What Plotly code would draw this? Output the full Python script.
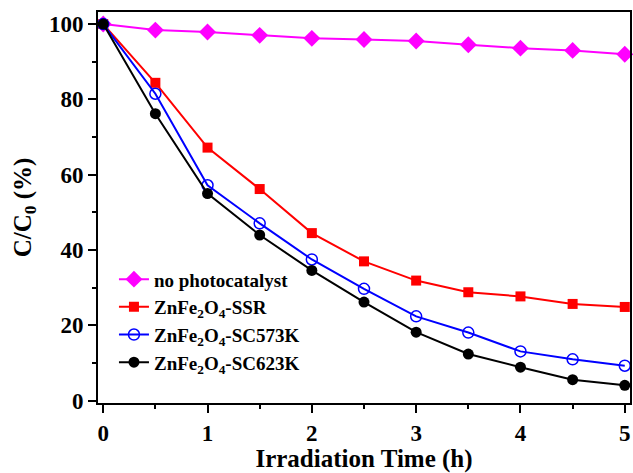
import plotly.graph_objects as go

# Irradiation time (h)
time_h = [0, 0.5, 1, 1.5, 2, 2.5, 3, 3.5, 4, 4.5, 5]

# Residual concentration C/C0 (%) for each sample
no_catalyst = [100, 98.4, 97.9, 97.0, 96.2, 95.9, 95.5, 94.5, 93.6, 93.0, 92.0]
ssr = [100, 84.4, 67.2, 56.2, 44.5, 37.0, 31.9, 28.8, 27.7, 25.7, 24.9]
sc573 = [100, 81.5, 57.2, 47.1, 37.5, 29.7, 22.4, 18.1, 13.1, 11.0, 9.3]
sc623 = [100, 76.2, 55.0, 44.0, 34.6, 26.2, 18.2, 12.4, 8.9, 5.6, 4.1]

series_names = [
    "<b>no photocatalyst</b>",
    "<b>ZnFe<sub>2</sub>O<sub>4</sub>-SSR</b>",
    "<b>ZnFe<sub>2</sub>O<sub>4</sub>-SC573K</b>",
    "<b>ZnFe<sub>2</sub>O<sub>4</sub>-SC623K</b>",
]
x_ticks = [0, 1, 2, 3, 4, 5]
y_ticks = [0, 20, 40, 60, 80, 100]

FONT = "Liberation Serif"

fig = go.Figure()

styles = [
    (no_catalyst, "#ff00ff", dict(symbol="diamond", size=13, color="#ff00ff")),
    (ssr, "#ff0000", dict(symbol="square", size=10, color="#ff0000")),
    (sc573, "#0000ff", dict(symbol="circle-open", size=11, color="#0000ff", line=dict(width=1.5))),
    (sc623, "#000000", dict(symbol="circle", size=11, color="#000000")),
]

for name, (vals, color, marker) in zip(series_names, styles):
    fig.add_trace(go.Scatter(
        x=time_h, y=vals, name=name, mode="lines+markers",
        line=dict(color=color, width=2), marker=marker,
        cliponaxis=False,
    ))

axis_common = dict(
    showline=True, linecolor="black", linewidth=2, mirror=True,
    ticks="outside", tickcolor="black", tickwidth=2, ticklen=8,
    showgrid=False, zeroline=False, automargin=False,
    tickfont=dict(family=FONT, size=23, color="black"),
)

fig.update_xaxes(
    range=[-0.05, 5.05], tickvals=x_ticks, ticktext=[f"<b>{v}</b>" for v in x_ticks],
    minor=dict(dtick=0.5, ticks="outside", ticklen=4, tickwidth=2, tickcolor="black"),
    title=dict(text="<b>Irradiation Time (h)</b>", font=dict(family=FONT, size=25, color="black"), standoff=12),
    **axis_common,
)
fig.update_yaxes(
    range=[-0.6, 103.2], tickvals=y_ticks, ticktext=[f"<b>{v}</b>" for v in y_ticks],
    minor=dict(dtick=10, ticks="outside", ticklen=4, tickwidth=2, tickcolor="black"),
    title=dict(text="<b>C/C<sub>0</sub> (%)</b>", font=dict(family=FONT, size=25, color="black"), standoff=10),
    **axis_common,
)

fig.update_layout(
    width=633, height=473,
    margin=dict(l=98, r=3, t=12, b=70),
    plot_bgcolor="white", paper_bgcolor="white",
    font=dict(family=FONT),
    showlegend=True,
    legend=dict(
        x=0.03, y=0.365, xanchor="left", yanchor="top",
        bgcolor="rgba(0,0,0,0)", borderwidth=0,
        font=dict(family=FONT, size=19, color="black"),
        tracegroupgap=2,
    ),
)

fig.write_html("out.html")
